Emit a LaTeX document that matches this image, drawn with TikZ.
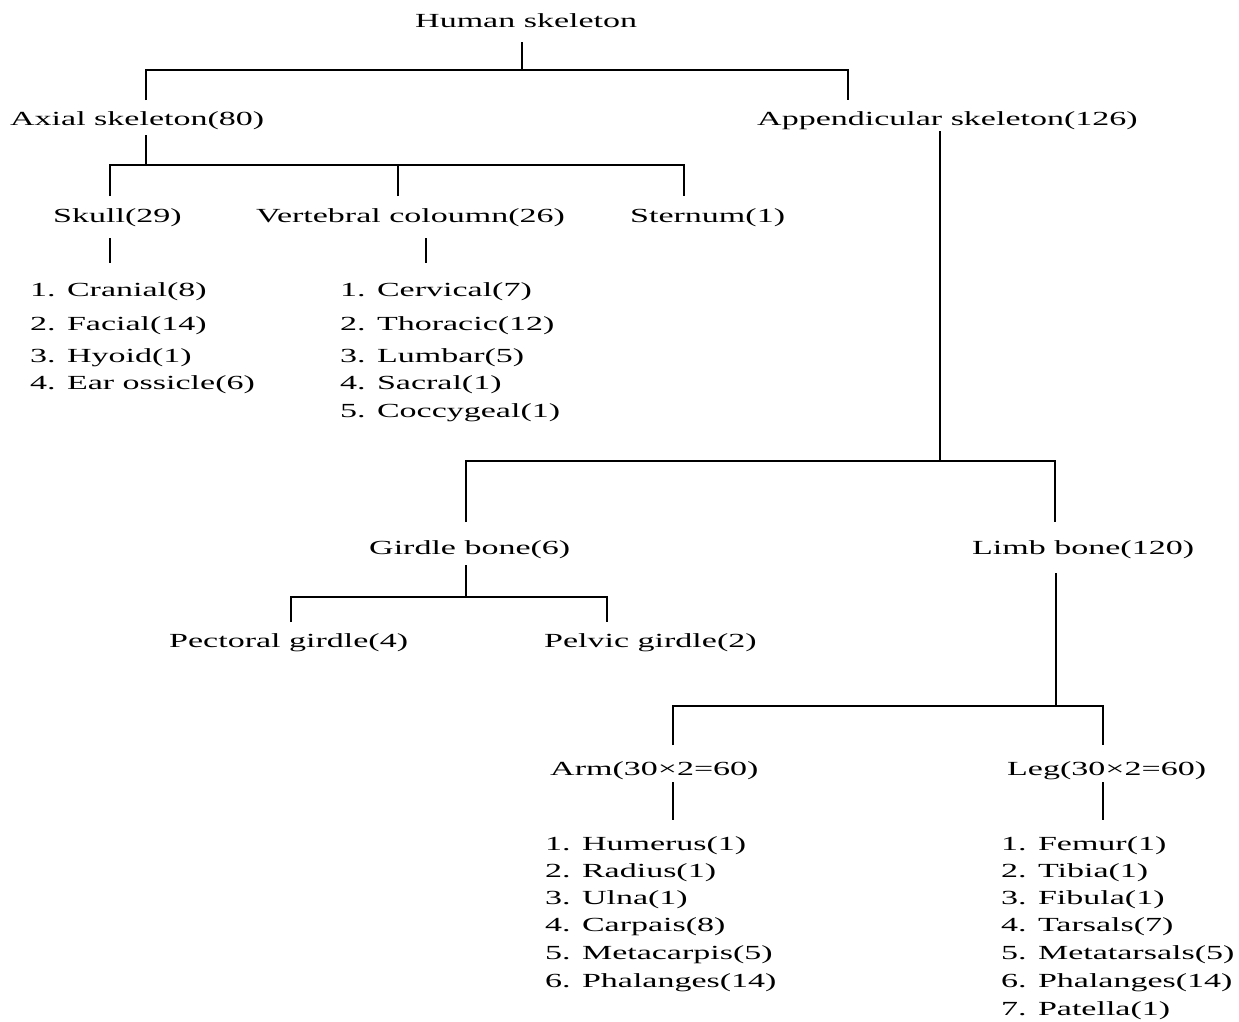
\documentclass[tikz,border=0pt]{standalone}
\usepackage{fontspec}
\setmainfont{Liberation Serif}[FakeStretch=1.7]
\begin{document}
\begin{tikzpicture}[x=1pt,y=-1pt,
  lbl/.style={inner sep=0pt, anchor=base west, font=\fontsize{20}{24}\selectfont},
  conn/.style={line width=2.2pt}]
\useasboundingbox (0,0) rectangle (1239,1021);
% labels
\node[lbl] (hs) at (415,27) {Human skeleton};
\node[lbl] (ax) at (10,125) {Axial skeleton(80)};
\node[lbl] (ap) at (757,125) {Appendicular skeleton(126)};
\node[lbl] (sk) at (53,222) {Skull(29)};
\node[lbl] (vc) at (256,222) {Vertebral coloumn(26)};
\node[lbl] (st) at (630,222) {Sternum(1)};
\node[lbl] (sk1) at (30,296) {1. Cranial(8)};
\node[lbl] (sk2) at (30,330) {2. Facial(14)};
\node[lbl] (sk3) at (30,362) {3. Hyoid(1)};
\node[lbl] (sk4) at (30,389) {4. Ear ossicle(6)};
\node[lbl] (vc1) at (340,296) {1. Cervical(7)};
\node[lbl] (vc2) at (340,330) {2. Thoracic(12)};
\node[lbl] (vc3) at (340,362) {3. Lumbar(5)};
\node[lbl] (vc4) at (340,389) {4. Sacral(1)};
\node[lbl] (vc5) at (340,417) {5. Coccygeal(1)};
\node[lbl] (gb) at (369,554) {Girdle bone(6)};
\node[lbl] (lb) at (972,554) {Limb bone(120)};
\node[lbl] (pg) at (169,647) {Pectoral girdle(4)};
\node[lbl] (pv) at (544,647) {Pelvic girdle(2)};
\node[lbl] (arm) at (550,775) {Arm(30×2=60)};
\node[lbl] (leg) at (1007,775) {Leg(30×2=60)};
\node[lbl] (a1) at (545,850) {1. Humerus(1)};
\node[lbl] (a2) at (545,877) {2. Radius(1)};
\node[lbl] (a3) at (545,904) {3. Ulna(1)};
\node[lbl] (a4) at (545,931) {4. Carpais(8)};
\node[lbl] (a5) at (545,959) {5. Metacarpis(5)};
\node[lbl] (a6) at (545,987) {6. Phalanges(14)};
\node[lbl] (l1) at (1001,850) {1. Femur(1)};
\node[lbl] (l2) at (1001,877) {2. Tibia(1)};
\node[lbl] (l3) at (1001,904) {3. Fibula(1)};
\node[lbl] (l4) at (1001,931) {4. Tarsals(7)};
\node[lbl] (l5) at (1001,959) {5. Metatarsals(5)};
\node[lbl] (l6) at (1001,987) {6. Phalanges(14)};
\node[lbl] (l7) at (1001,1015) {7. Patella(1)};
% junction coordinates
\coordinate (hsD) at (522,42);
\coordinate (hsB) at (522,70);
\coordinate (axU) at (146,100);
\coordinate (apU) at (848,100);
\coordinate (axD) at (146,135);
\coordinate (axB) at (146,165);
\coordinate (skU) at (110,196);
\coordinate (vcU) at (398,196);
\coordinate (stU) at (684,196);
\coordinate (skD) at (110,238);
\coordinate (skL) at (110,263);
\coordinate (vcD) at (426,238);
\coordinate (vcL) at (426,263);
\coordinate (apD) at (940,131);
\coordinate (apB) at (940,461);
\coordinate (gbU) at (466,522);
\coordinate (lbU) at (1055,522);
\coordinate (gbD) at (466,565);
\coordinate (gbB) at (466,597);
\coordinate (pgU) at (291,622);
\coordinate (pvU) at (607,622);
\coordinate (lbD) at (1056,573);
\coordinate (lbB) at (1056,706);
\coordinate (armU) at (673,745);
\coordinate (legU) at (1103,745);
\coordinate (armD) at (673,782);
\coordinate (armL) at (673,820);
\coordinate (legD) at (1103,782);
\coordinate (legL) at (1103,820);
% connectors
\draw[conn] (hsD) -- (hsB);
\draw[conn] (axU) -- (axU |- hsB) -- (apU |- hsB) -- (apU);
\draw[conn] (axD) -- (axB);
\draw[conn] (skU) -- (skU |- axB) -- (stU |- axB) -- (stU);
\draw[conn] (vcU) -- (vcU |- axB);
\draw[conn] (skD) -- (skL);
\draw[conn] (vcD) -- (vcL);
\draw[conn] (apD) -- (apB);
\draw[conn] (gbU) -- (gbU |- apB) -- (lbU |- apB) -- (lbU);
\draw[conn] (gbD) -- (gbB);
\draw[conn] (pgU) -- (pgU |- gbB) -- (pvU |- gbB) -- (pvU);
\draw[conn] (lbD) -- (lbB);
\draw[conn] (armU) -- (armU |- lbB) -- (legU |- lbB) -- (legU);
\draw[conn] (armD) -- (armL);
\draw[conn] (legD) -- (legL);
\end{tikzpicture}
\end{document}
